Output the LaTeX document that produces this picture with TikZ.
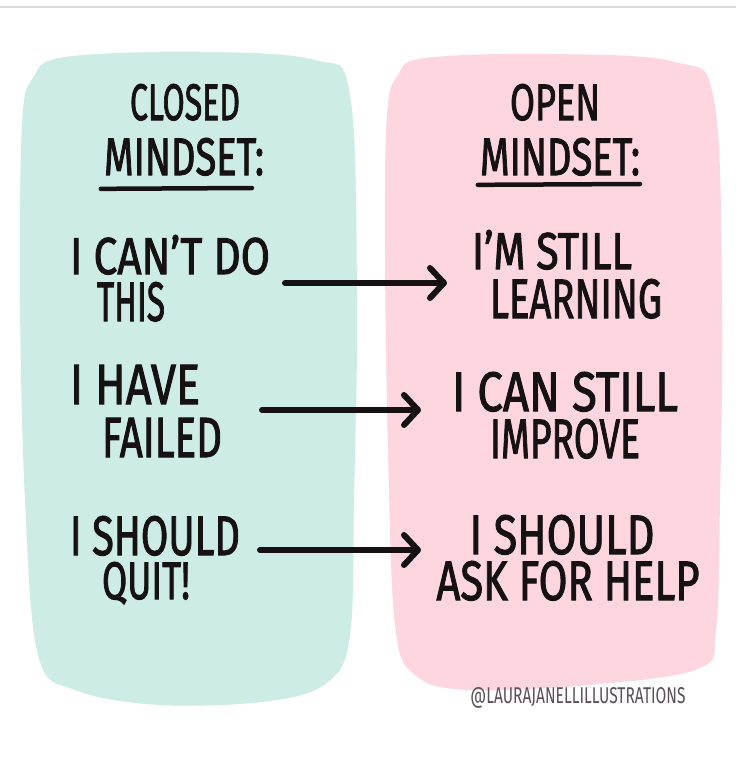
\documentclass[tikz,border=0pt]{standalone}
\usepackage{fontspec}
\usepackage{graphicx}
\setmainfont{Fira Sans}
\newfontfamily\hand[FakeBold=2]{Fira Sans}
\usetikzlibrary{arrows.meta}
\definecolor{teal}{RGB}{205,236,229}
\definecolor{pinkbg}{RGB}{253,214,223}
\definecolor{ink}{RGB}{22,18,20}
\definecolor{mark}{RGB}{92,80,88}
\definecolor{rule}{RGB}{220,220,220}
\newcommand{\hw}[3]{\resizebox{#1pt}{#2pt}{#3}}
\tikzset{
  txt/.style={inner sep=0pt, anchor=base, text=ink, font=\hand},
  arr/.style={-{Straight Barb[length=14pt,width=30pt,round]}, line width=6pt, line cap=round, draw=ink},
  uline/.style={line width=4.5pt, line cap=round, draw=ink},
}
\begin{document}
\begin{tikzpicture}[x=1pt,y=-1pt]
\useasboundingbox (0,0) rectangle (736,763);
\fill[white] (0,0) rectangle (736,763);
\draw[rule, line width=1.5pt] (0,7) -- (736,7);
% panels
\fill[teal] plot[smooth cycle, tension=0.6] coordinates {(65,57) (200,52) (315,60) (350,95) (357,300) (354,500) (350,635) (328,682) (270,701) (160,705) (75,690) (38,655) (25,500) (20,300) (22,125) (33,78)};
\fill[pinkbg] plot[smooth cycle, tension=0.6] coordinates {(425,58) (550,54) (675,62) (714,100) (722,300) (720,500) (716,630) (700,668) (600,684) (470,690) (415,675) (395,625) (388,450) (385,250) (387,115) (398,75)};
% headings
\node[txt] (closed) at (185,120) {\hw{110}{36}{CLOSED}};
\node[txt] (mindl) at (184,175) {\hw{160}{37}{MINDSET:}};
\node[txt] (open) at (555,120) {\hw{90}{36}{OPEN}};
\node[txt] (mindr) at (560,175) {\hw{160}{37}{MINDSET:}};
\draw[uline] (mindl.south west) ++(-3,13) coordinate (ul1) -- (252,188) coordinate (ul2);
\draw[uline] (mindr.south west) ++(-2,9) coordinate (ur1) -- (640,184) coordinate (ur2);
% left column
\node[txt] (l1a) at (170,274) {\hw{200}{39}{I CAN’T DO}};
\node[txt] (l1b) at (131,321) {\hw{68}{39}{THIS}};
\node[txt] (l2a) at (135,404) {\hw{130}{39}{I HAVE}};
\node[txt] (l2b) at (162,457) {\hw{120}{39}{FAILED}};
\node[txt] (l3a) at (155,555) {\hw{170}{39}{I SHOULD}};
\node[txt] (l3b) at (146,599) {\hw{88}{37}{QUIT!}};
% right column
\node[txt] (r1a) at (552,269) {\hw{160}{39}{I’M STILL}};
\node[txt] (r1b) at (576,318) {\hw{172}{39}{LEARNING}};
\node[txt] (r2a) at (565,411) {\hw{226}{39}{I CAN STILL}};
\node[txt] (r2b) at (565,458) {\hw{150}{39}{IMPROVE}};
\node[txt] (r3a) at (562,554) {\hw{185}{39}{I SHOULD}};
\node[txt] (r3b) at (568,600) {\hw{263}{39}{ASK FOR HELP}};
% arrows
\coordinate (a1s) at (285,283);
\coordinate (a1e) at (447,283);
\coordinate (a2s) at (262,410);
\coordinate (a2e) at (421,410);
\coordinate (a3s) at (260,550);
\coordinate (a3e) at (421,550);
\draw[arr] (a1s) -- (a1e);
\draw[arr] (a2s) -- (a2e);
\draw[arr] (a3s) -- (a3e);
% watermark
\node[inner sep=0pt, anchor=base, text=mark] (wm) at (578,703) {\hw{215}{16}{@LAURAJANELLILLUSTRATIONS}};
\end{tikzpicture}
\end{document}
